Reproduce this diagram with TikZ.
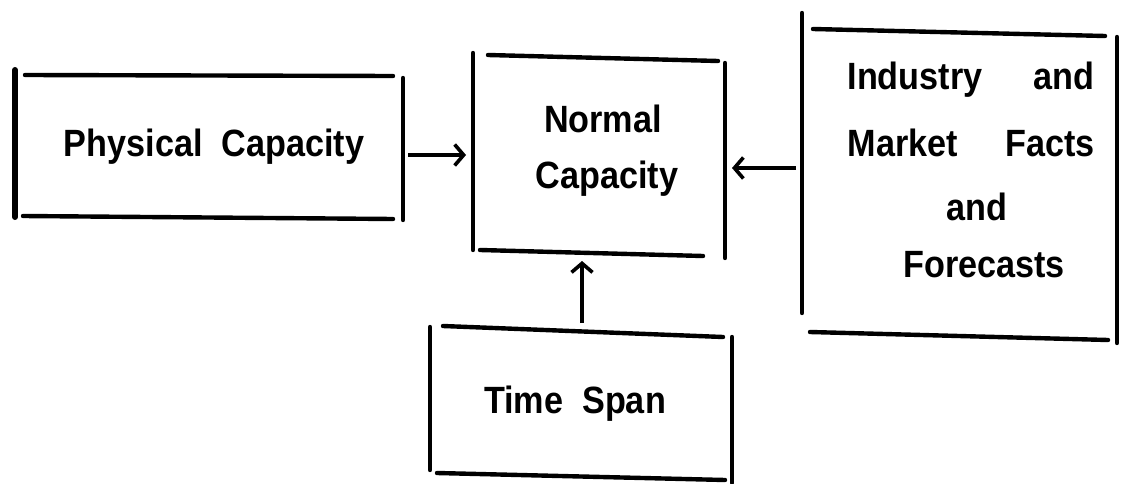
\documentclass[tikz,border=0pt]{standalone}
\usepackage{fontspec}
\setmainfont[FakeStretch=0.9]{Liberation Sans}
\usetikzlibrary{arrows.meta}
\begin{document}
\begin{tikzpicture}[x=1pt,y=-1pt,
  side/.style={line width=4.4pt,line cap=round},
  arr/.style={line width=3.6pt,-{Straight Barb[length=9pt,width=21pt,line width=3.6pt]}},
  lbl/.style={anchor=base,inner sep=0pt,font=\fontsize{38}{44}\selectfont\bfseries}]
\useasboundingbox (0,0) rectangle (1121,484);
% Physical Capacity box
\draw[side,line width=6pt] (15,70) -- (15,217);
\draw[side] (25,75) -- (393,76);
\draw[side] (23,216) -- (393,219);
\draw[side] (403,78) -- (403,220);
\node[lbl] (pc) at (214,157) {Physical\ \ Capacity};
% Normal Capacity box
\draw[side] (473,53) -- (473,250);
\draw[side] (488,55) -- (718,61);
\draw[side] (725,63) -- (725,258);
\draw[side] (480,250) -- (703,256);
\node[lbl] (nc1) at (603,132) {Normal};
\node[lbl] (nc2) at (607,188) {Capacity};
% Industry box
\draw[side] (802,13) -- (802,313);
\draw[side] (813,29) -- (1105,36);
\draw[side] (1117,37) -- (1117,343);
\draw[side] (810,332) -- (1108,340);
\node[lbl] (im1) at (971,90) {\makebox[247pt][s]{Industry and}};
\node[lbl] (im2) at (971,157) {\makebox[247pt][s]{Market Facts}};
\node[lbl] (im3) at (977,220) {and};
\node[lbl] (im4) at (984,277) {Forecasts};
% Time Span box
\draw[side] (430,327) -- (430,470);
\draw[side] (443,326) -- (723,337);
\draw[side] (732,337) -- (732,483);
\draw[side] (437,473) -- (725,480);
\node[lbl] (ts) at (575,413) {Time\ \ Span};
% connectors
\coordinate (pcE) at (408,155);
\coordinate (ncW) at (466,155);
\coordinate (imW) at (796,168);
\coordinate (ncE) at (732,168);
\coordinate (tsN) at (582,323);
\coordinate (ncS) at (582,261);
\draw[arr] (pcE) -- (ncW);
\draw[arr] (imW) -- (ncE);
\draw[arr] (tsN) -- (ncS);
\end{tikzpicture}
\end{document}
